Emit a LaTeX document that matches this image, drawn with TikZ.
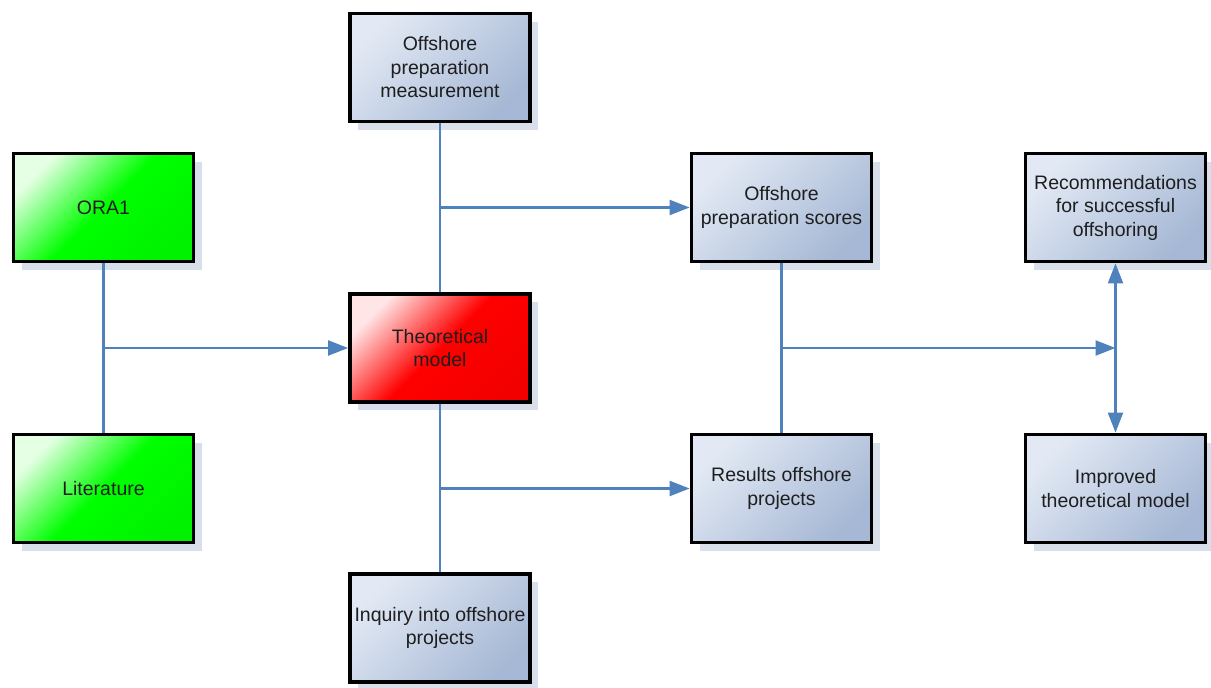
\documentclass[tikz,border=0pt]{standalone}
\usepackage{fontspec}
\setmainfont{Liberation Sans}
\usetikzlibrary{arrows.meta,shadows}
\definecolor{linkblue}{RGB}{79,129,189}
\definecolor{boxblue}{RGB}{166,184,213}
\definecolor{boxpale}{RGB}{226,233,244}
\definecolor{shadowblue}{RGB}{216,223,234}
\definecolor{textgrey}{RGB}{30,30,30}
\tikzset{
  card/.style={draw=black, line width=3.8pt, rectangle,
    minimum width=180pt, minimum height=108pt, inner sep=0pt,
    align=center, text=textgrey,
    font=\fontsize{19.5}{23.5}\selectfont,
    drop shadow={shadow xshift=8pt, shadow yshift=-8pt, fill=shadowblue, opacity=1}},
  bluecard/.style={card, top color=boxpale, bottom color=boxblue, shading angle=45},
  greencard/.style={card, top color=green!10!white, bottom color=green!95!black,
    middle color=green, shading angle=45},
  redcard/.style={card, top color=red!10!white, bottom color=red!95!black,
    middle color=red, shading angle=45},
  link/.style={draw=linkblue, line width=2.2pt},
  arrowlink/.style={link, -{Triangle[length=20pt,width=15pt]}},
  twoway/.style={link, {Triangle[length=20pt,width=15pt]}-{Triangle[length=20pt,width=15pt]}}
}
\begin{document}
\begin{tikzpicture}[x=1pt,y=-1pt]
\useasboundingbox (0,0) rectangle (1211,688);

% source boxes
\node[greencard] (ora) at (103.5,207.5) {ORA1};
\node[greencard] (lit) at (103.5,488.5) {Literature};

% central model and its inputs
\node[redcard] (theo) at (440,348) {Theoretical\\model};
\node[bluecard] (meas) at (440,67.5) {Offshore\\preparation\\measurement};
\node[bluecard] (inq) at (440,628) {Inquiry into offshore\\projects};

% outcomes
\node[bluecard] (scores) at (781.5,207.5) {Offshore\\preparation scores};
\node[bluecard] (res) at (781.5,488.5) {Results offshore\\projects};

% conclusions
\node[bluecard] (rec) at (1115.5,207.5) {Recommendations\\for successful\\offshoring};
\node[bluecard] (imp) at (1115.5,488.5) {Improved\\theoretical model};

% junction points on the connecting lines
\coordinate (j1) at (ora.south |- theo.west);
\coordinate (j2) at (meas.south |- scores.west);
\coordinate (j3) at (theo.south |- res.west);
\coordinate (j4) at (scores.south |- theo.west);
\coordinate (j5) at (rec.south |- theo.west);

% connectors
\draw[link] (ora.south) -- (lit.north);
\draw[arrowlink] (j1) -- (theo.west);

\draw[link] (meas.south) -- (theo.north);
\draw[arrowlink] (j2) -- (scores.west);

\draw[link] (theo.south) -- (inq.north);
\draw[arrowlink] (j3) -- (res.west);

\draw[link] (scores.south) -- (res.north);
\draw[arrowlink] (j4) -- (j5);

\draw[twoway] (rec.south) -- (imp.north);
\end{tikzpicture}
\end{document}
